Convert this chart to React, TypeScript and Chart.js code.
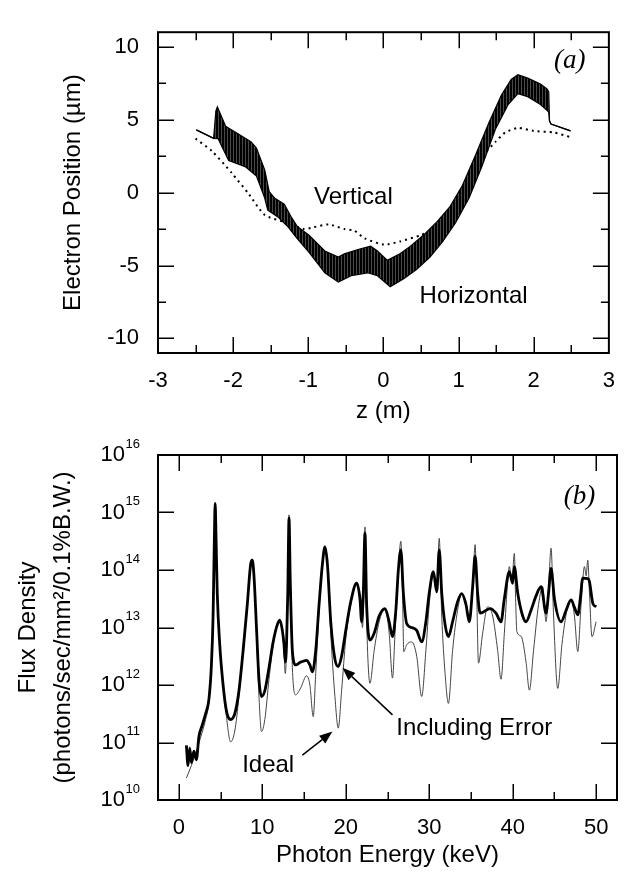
import React, { useEffect, useRef } from "react";
import { Chart, registerables } from "chart.js";
Chart.register(...registerables);

const SANS = "'Liberation Sans', Arial, Helvetica, sans-serif";
const SERIF = "'Liberation Serif', 'Times New Roman', serif";

// ---------- Panel (a): electron position ----------
const zTicks = [-3, -2, -1, 0, 1, 2, 3];
const zMinorTicks = [-2.5, -1.5, -0.5, 0.5, 1.5, 2.5];
const posTicks = [-10, -5, 0, 5, 10];
const posMinorTicks = [-7.5, -2.5, 2.5, 7.5];

const horizUpperZ = [-2.49, -2.26, -2.23, -2.21, -2.1, -1.93, -1.76, -1.69, -1.58, -1.52, -1.45, -1.32, -1.23, -1.15, -0.99, -0.78, -0.6, -0.52, -0.34, -0.17, -0.08, 0.05, 0.22, 0.36, 0.53, 0.7, 0.88, 1.05, 1.23, 1.4, 1.57, 1.7, 1.79, 1.92, 2.09, 2.18, 2.2, 2.21, 2.23, 2.49];
const horizUpperV = [4.3, 3.72, 5.6, 5.88, 4.55, 4.02, 3.48, 3.06, 1.56, 0.06, -0.37, -0.8, -1.65, -2.3, -2.93, -4.0, -4.42, -4.2, -3.9, -3.67, -4.0, -4.64, -4.2, -3.67, -2.93, -2.07, -1.0, 0.49, 2.63, 4.76, 6.69, 7.76, 8.08, 7.86, 7.44, 7.1, 6.9, 4.9, 4.7, 4.23];
const horizLowerZ = [-2.49, -2.26, -2.2, -2.06, -1.84, -1.69, -1.58, -1.54, -1.41, -1.28, -1.15, -0.99, -0.78, -0.6, -0.43, -0.21, -0.08, 0.09, 0.27, 0.44, 0.62, 0.79, 0.96, 1.14, 1.31, 1.49, 1.66, 1.79, 1.92, 2.09, 2.18, 2.2, 2.21, 2.23, 2.49];
const horizLowerV = [4.3, 3.72, 3.7, 2.2, 1.78, 1.13, -0.37, -1.2, -1.65, -2.29, -3.14, -4.1, -5.5, -6.13, -5.7, -5.5, -5.7, -6.45, -5.9, -5.28, -4.42, -3.35, -2.07, -0.37, 1.78, 4.34, 6.04, 6.79, 6.58, 6.04, 5.62, 5.5, 4.9, 4.7, 4.23];
const vertZ = [-2.5, -2.28, -2.02, -1.8, -1.58, -1.3, -1.06, -0.95, -0.73, -0.52, -0.39, -0.25, 0.01, 0.22, 0.49, 0.66, 0.88, 1.1, 1.18, 1.35, 1.49, 1.62, 1.79, 2.0, 2.27, 2.49];
const vertV = [3.7, 2.84, 1.35, -0.04, -1.54, -2.05, -2.5, -2.4, -2.18, -2.5, -2.6, -3.14, -3.57, -3.35, -2.93, -2.5, -1.2, 0.49, 1.78, 2.7, 3.48, 4.12, 4.44, 4.23, 4.12, 3.8];

const panelALabels = [
  { text: "Vertical", x: -0.4, y: -0.32, font: `24px ${SANS}` },
  { text: "Horizontal", x: 1.2, y: -7.1, font: `24px ${SANS}` },
  { text: "(a)", x: 2.48, y: 9.0, font: `italic 27px ${SERIF}` },
];

// ---------- Panel (b): flux density ----------
const energyTicks = [0, 10, 20, 30, 40, 50];
const energyMinorTicks = [5, 15, 25, 35, 45];
const fluxTickExponents = [10, 11, 12, 13, 14, 15, 16];

const idealE = [0.9, 1.5, 2.4, 3.2, 3.6, 3.9, 4.1, 4.25, 4.35, 4.45, 4.6, 4.9, 5.3, 5.7, 6.2, 6.7, 7.2, 7.7, 8.2, 8.6, 8.8, 9.0, 9.3, 9.6, 9.9, 10.3, 10.8, 11.3, 11.8, 12.1, 12.4, 12.6, 12.75, 12.9, 13.05, 13.2, 13.35, 13.6, 14.0, 14.6, 15.3, 15.7, 16.1, 16.4, 16.8, 17.2, 17.5, 17.8, 18.2, 18.7, 19.1, 19.5, 20.0, 20.6, 21.3, 21.8, 22.0, 22.15, 22.3, 22.45, 22.9, 23.4, 24.0, 24.7, 25.2, 25.6, 25.9, 26.3, 26.6, 26.8, 26.95, 27.3, 27.9, 28.5, 29.1, 29.6, 30.0, 30.5, 30.9, 31.2, 31.5, 31.9, 32.3, 32.8, 33.4, 33.9, 34.4, 34.8, 35.2, 35.5, 35.7, 35.9, 36.4, 37.0, 37.6, 38.2, 38.6, 39.0, 39.4, 39.6, 39.9, 40.2, 40.35, 40.5, 41.0, 41.6, 42.0, 42.5, 43.1, 43.6, 44.0, 44.3, 44.6, 44.9, 45.4, 45.9, 46.5, 47.0, 47.4, 47.8, 48.2, 48.6, 48.8, 49.0, 49.2, 49.5, 50.0];
const idealLogFlux = [10.38, 10.6, 10.99, 11.4, 11.7, 12.3, 13.2, 14.5, 15.16, 14.6, 13.6, 12.7, 12.0, 11.45, 11.01, 11.2, 11.8, 12.6, 13.4, 14.1, 14.17, 13.9, 12.9, 11.8, 11.19, 11.4, 12.1, 12.7, 13.05, 13.13, 12.95, 12.6, 12.2, 12.6, 13.6, 14.96, 13.8, 12.3, 11.83, 11.95, 12.16, 12.0, 11.45, 12.2, 13.3, 14.1, 14.41, 14.1, 12.9, 11.8, 11.25, 11.9, 12.8, 13.4, 13.77, 13.4, 13.0, 13.5, 14.75, 13.4, 12.03, 12.6, 13.1, 13.33, 12.9, 12.12, 12.9, 14.0, 14.5, 13.6, 12.58, 12.7, 12.75, 12.5, 11.8, 12.6, 13.4, 13.94, 13.7, 14.55, 13.2, 12.2, 11.68, 12.6, 13.3, 13.59, 13.45, 13.13, 13.7, 14.44, 13.5, 12.38, 12.9, 13.36, 13.2, 12.6, 12.1, 12.9, 13.8, 14.06, 13.8, 14.29, 13.5, 12.93, 12.85, 12.4, 11.91, 12.6, 13.4, 13.71, 13.1, 13.7, 14.38, 13.2, 11.94, 12.7, 13.3, 13.48, 13.2, 12.58, 13.4, 14.06, 13.9, 14.17, 13.6, 12.84, 13.1];

const errorE = [0.9, 1.1, 1.3, 1.5, 1.8, 2.1, 2.4, 2.8, 3.2, 3.6, 3.9, 4.1, 4.25, 4.35, 4.45, 4.6, 4.9, 5.3, 5.7, 6.2, 6.7, 7.2, 7.7, 8.2, 8.6, 8.8, 9.0, 9.3, 9.6, 9.9, 10.3, 10.8, 11.3, 11.8, 12.1, 12.4, 12.6, 12.75, 12.9, 13.05, 13.2, 13.35, 13.6, 14.0, 14.6, 15.3, 15.7, 16.0, 16.4, 16.8, 17.2, 17.5, 17.8, 18.2, 18.7, 19.1, 19.5, 20.0, 20.6, 21.3, 21.7, 21.9, 22.1, 22.3, 22.5, 22.9, 23.4, 24.0, 24.7, 25.2, 25.6, 26.0, 26.3, 26.6, 26.9, 27.3, 27.9, 28.5, 29.1, 29.6, 30.0, 30.5, 30.9, 31.2, 31.5, 31.9, 32.3, 32.8, 33.4, 33.9, 34.4, 34.8, 35.2, 35.5, 35.8, 36.1, 37.3, 38.0, 38.6, 39.0, 39.6, 40.0, 40.2, 40.6, 41.2, 41.6, 42.2, 42.8, 43.4, 44.0, 44.3, 44.6, 45.0, 45.8, 46.4, 47.0, 47.4, 47.8, 48.1, 48.4, 49.0, 49.2, 49.6, 50.0];
const errorLogFlux = [10.95, 10.6, 10.9, 10.65, 10.85, 10.7, 11.1, 11.3, 11.5, 11.75, 12.35, 13.2, 14.5, 15.16, 14.6, 13.6, 12.7, 12.0, 11.55, 11.4, 11.5, 11.9, 12.6, 13.4, 14.1, 14.17, 13.9, 13.0, 12.1, 11.8, 11.9, 12.3, 12.75, 13.05, 13.13, 12.95, 12.7, 12.4, 12.7, 13.6, 14.9, 13.8, 12.6, 12.35, 12.4, 12.43, 12.35, 12.23, 12.6, 13.4, 14.1, 14.4, 14.1, 13.1, 12.45, 12.32, 12.5, 12.95, 13.45, 13.77, 13.5, 13.1, 13.6, 14.64, 13.4, 12.78, 12.9, 13.2, 13.33, 13.1, 12.84, 13.3, 14.0, 14.35, 13.6, 13.07, 13.0, 12.95, 12.75, 13.1, 13.6, 13.97, 13.62, 14.35, 13.6, 13.05, 12.84, 13.1, 13.45, 13.59, 13.4, 13.1, 13.7, 14.24, 13.6, 13.25, 13.33, 13.25, 13.1, 13.5, 13.97, 13.77, 14.06, 13.6, 13.2, 13.1, 13.3, 13.55, 13.71, 13.25, 13.6, 14.03, 13.5, 13.1, 13.3, 13.48, 13.35, 13.22, 13.5, 13.86, 13.85, 13.8, 13.42, 13.36];

const panelBLabels = [
  { text: "Including Error", x: 35.4, logY: 11.25, font: `24px ${SANS}` },
  { text: "Ideal", x: 10.7, logY: 10.6, font: `24px ${SANS}` },
  { text: "(b)", x: 48.0, logY: 15.27, font: `italic 27px ${SERIF}` },
];
const panelBArrows = [
  { fromX: 25.6, fromLogY: 11.48, toX: 19.6, toLogY: 12.3 },
  { fromX: 14.8, fromLogY: 10.78, toX: 18.4, toLogY: 11.19 },
];

const zip = (xs: number[], ys: number[]) => xs.map((x, i) => ({ x, y: ys[i] }));
const fromLog = (v: number) => Math.pow(10, v);

function drawTickMarks(chart: any, xMajor: number[], xMinor: number[], yMajor: number[], yMinor: number[]) {
  const { ctx, chartArea: a, scales } = chart;
  const xs = scales.x, ys = scales.y;
  const MAJ = 16, MIN = 8;
  ctx.save();
  ctx.strokeStyle = "#000";
  ctx.lineWidth = 1.5;
  ctx.beginPath();
  const vx = (v: number, len: number) => {
    const p = Math.round(xs.getPixelForValue(v)) + 0.25;
    if (p <= a.left + 1 || p >= a.right - 1) return;
    ctx.moveTo(p, a.bottom); ctx.lineTo(p, a.bottom - len);
    ctx.moveTo(p, a.top); ctx.lineTo(p, a.top + len);
  };
  const hy = (v: number, len: number) => {
    const p = Math.round(ys.getPixelForValue(v)) + 0.25;
    if (p <= a.top + 1 || p >= a.bottom - 1) return;
    ctx.moveTo(a.left, p); ctx.lineTo(a.left + len, p);
    ctx.moveTo(a.right, p); ctx.lineTo(a.right - len, p);
  };
  xMajor.forEach((v) => vx(v, MAJ));
  xMinor.forEach((v) => vx(v, MIN));
  yMajor.forEach((v) => hy(v, MAJ));
  yMinor.forEach((v) => hy(v, MIN));
  ctx.stroke();
  ctx.lineWidth = 2;
  ctx.strokeRect(a.left, a.top, a.right - a.left, a.bottom - a.top);
  ctx.restore();
}

function makeHatch(): CanvasPattern | string {
  const c = document.createElement("canvas");
  c.width = 3; c.height = 1;
  const g = c.getContext("2d");
  if (!g) return "#111";
  g.fillStyle = "#000"; g.fillRect(0, 0, 2, 1);
  g.fillStyle = "#4a4a4a"; g.fillRect(2, 0, 1, 1);
  return g.createPattern(c, "repeat") || "#111";
}

const noGrid = { display: false, drawTicks: false, tickLength: 0 };

function PanelA() {
  const ref = useRef<HTMLCanvasElement>(null);
  useEffect(() => {
    if (!ref.current) return;
    const hatch = makeHatch();
    const plugin = {
      id: "panelAFrame",
      afterDraw(chart: any) {
        drawTickMarks(chart, zTicks, zMinorTicks, posTicks, posMinorTicks);
        const { ctx, scales } = chart;
        ctx.save();
        ctx.fillStyle = "#000";
        ctx.textAlign = "center";
        ctx.textBaseline = "middle";
        panelALabels.forEach((l) => {
          ctx.font = l.font;
          ctx.fillText(l.text, scales.x.getPixelForValue(l.x), scales.y.getPixelForValue(l.y));
        });
        ctx.restore();
      },
    };
    const chart = new Chart(ref.current, {
      type: "line",
      data: {
        datasets: [
          { label: "Horizontal (upper)", data: zip(horizUpperZ, horizUpperV), borderColor: "#000", borderWidth: 1.2, pointRadius: 0, fill: false, tension: 0 },
          { label: "Horizontal (lower)", data: zip(horizLowerZ, horizLowerV), borderColor: "#000", borderWidth: 1.2, pointRadius: 0, fill: 0, backgroundColor: hatch as any, tension: 0 },
          { label: "Vertical", data: zip(vertZ, vertV), borderColor: "#000", borderWidth: 2, borderDash: [2, 4], pointRadius: 0, fill: false, tension: 0.2 },
        ],
      },
      options: {
        animation: false,
        responsive: false,
        maintainAspectRatio: false,
        layout: { padding: { left: 0, right: 13, top: 10, bottom: 0 } },
        plugins: { legend: { display: false }, tooltip: { enabled: false } },
        scales: {
          x: {
            type: "linear", min: -3, max: 3,
            grid: noGrid, border: { display: false },
            afterBuildTicks: (s: any) => { s.ticks = zTicks.map((v) => ({ value: v })); },
            afterFit: (s: any) => { s.height = 85; },
            ticks: { autoSkip: false, maxRotation: 0, padding: 15, color: "#000", font: { family: SANS, size: 22 }, callback: (v: any) => String(v) },
            title: { display: true, text: "z (m)", color: "#000", font: { family: SANS, size: 24 }, padding: { top: 0, bottom: 12.6 } },
          },
          y: {
            type: "linear", min: -11, max: 11,
            grid: noGrid, border: { display: false },
            afterBuildTicks: (s: any) => { s.ticks = posTicks.map((v) => ({ value: v })); },
            afterFit: (s: any) => { s.width = 158; },
            ticks: { autoSkip: false, padding: 19, color: "#000", font: { family: SANS, size: 22 }, callback: (v: any) => String(v) },
            title: { display: true, text: "Electron Position (µm)", color: "#000", font: { family: SANS, size: 24 }, padding: { top: 58.6, bottom: 0 } },
          },
        },
      },
      plugins: [plugin],
    } as any);
    return () => chart.destroy();
  }, []);
  return <canvas ref={ref} width={630} height={438} style={{ position: "absolute", left: 0, top: 0, width: 630, height: 438 }} />;
}

function PanelB() {
  const ref = useRef<HTMLCanvasElement>(null);
  useEffect(() => {
    if (!ref.current) return;
    const plugin = {
      id: "panelBFrame",
      afterDraw(chart: any) {
        drawTickMarks(chart, energyTicks, energyMinorTicks, fluxTickExponents.map(fromLog), []);
        const { ctx, scales, chartArea } = chart;
        const xs = scales.x, ys = scales.y;
        ctx.save();
        ctx.fillStyle = "#000";
        const right = chartArea.left - 18;
        fluxTickExponents.forEach((e) => {
          const py = ys.getPixelForValue(fromLog(e));
          ctx.textAlign = "right";
          ctx.textBaseline = "middle";
          ctx.font = `13px ${SANS}`;
          const ew = ctx.measureText(String(e)).width;
          ctx.fillText(String(e), right, py - 11);
          ctx.font = `22px ${SANS}`;
          ctx.fillText("10", right - ew - 0.5, py);
        });
        ctx.textAlign = "center";
        ctx.textBaseline = "middle";
        panelBLabels.forEach((l) => {
          ctx.font = l.font;
          ctx.fillText(l.text, xs.getPixelForValue(l.x), ys.getPixelForValue(fromLog(l.logY)));
        });
        ctx.strokeStyle = "#000";
        ctx.lineWidth = 1.5;
        panelBArrows.forEach((ar) => {
          const x1 = xs.getPixelForValue(ar.fromX), y1 = ys.getPixelForValue(fromLog(ar.fromLogY));
          const x2 = xs.getPixelForValue(ar.toX), y2 = ys.getPixelForValue(fromLog(ar.toLogY));
          const ang = Math.atan2(y2 - y1, x2 - x1);
          const hl = 13, hw = 5;
          const bx = x2 - hl * Math.cos(ang), by = y2 - hl * Math.sin(ang);
          ctx.beginPath(); ctx.moveTo(x1, y1); ctx.lineTo(bx, by); ctx.stroke();
          ctx.beginPath();
          ctx.moveTo(x2, y2);
          ctx.lineTo(bx + hw * Math.sin(ang), by - hw * Math.cos(ang));
          ctx.lineTo(bx - hw * Math.sin(ang), by + hw * Math.cos(ang));
          ctx.closePath(); ctx.fill();
        });
        ctx.restore();
      },
    };
    const chart = new Chart(ref.current, {
      type: "line",
      data: {
        datasets: [
          { label: "Including Error", data: zip(errorE, errorLogFlux.map(fromLog)), borderColor: "#000", borderWidth: 2.8, pointRadius: 0, fill: false, cubicInterpolationMode: "monotone" },
          { label: "Ideal", data: zip(idealE, idealLogFlux.map(fromLog)), borderColor: "#444", borderWidth: 1, pointRadius: 0, fill: false, cubicInterpolationMode: "monotone" },
        ],
      },
      options: {
        animation: false,
        responsive: false,
        maintainAspectRatio: false,
        layout: { padding: { left: 0, right: 13, top: 17, bottom: 0 } },
        plugins: { legend: { display: false }, tooltip: { enabled: false } },
        scales: {
          x: {
            type: "linear", min: -2.5, max: 52.5,
            grid: noGrid, border: { display: false },
            afterBuildTicks: (s: any) => { s.ticks = energyTicks.map((v) => ({ value: v })); },
            afterFit: (s: any) => { s.height = 76; },
            ticks: { autoSkip: false, maxRotation: 0, padding: 15, color: "#000", font: { family: SANS, size: 22 }, callback: (v: any) => String(v) },
            title: { display: true, text: "Photon Energy (keV)", color: "#000", font: { family: SANS, size: 24 }, padding: { top: 0, bottom: 6.6 } },
          },
          y: {
            type: "logarithmic", min: 1e10, max: 1e16,
            grid: noGrid, border: { display: false },
            afterBuildTicks: (s: any) => { s.ticks = fluxTickExponents.map((e) => ({ value: fromLog(e) })); },
            afterFit: (s: any) => { s.width = 158; },
            ticks: { display: false },
            title: { display: true, text: ["Flux Density", "(photons/sec/mm²/0.1%B.W.)"], color: "#000", font: { family: SANS, size: 24, lineHeight: "35px" }, padding: { top: 10.5, bottom: 0 } },
          },
        },
      },
      plugins: [plugin],
    } as any);
    return () => chart.destroy();
  }, []);
  return <canvas ref={ref} width={630} height={438} style={{ position: "absolute", left: 0, top: 438, width: 630, height: 438 }} />;
}

export default function App() {
  return (
    <div style={{ position: "absolute", left: 0, top: 0, width: 630, height: 876, background: "#fff" }}>
      <PanelA />
      <PanelB />
    </div>
  );
}
